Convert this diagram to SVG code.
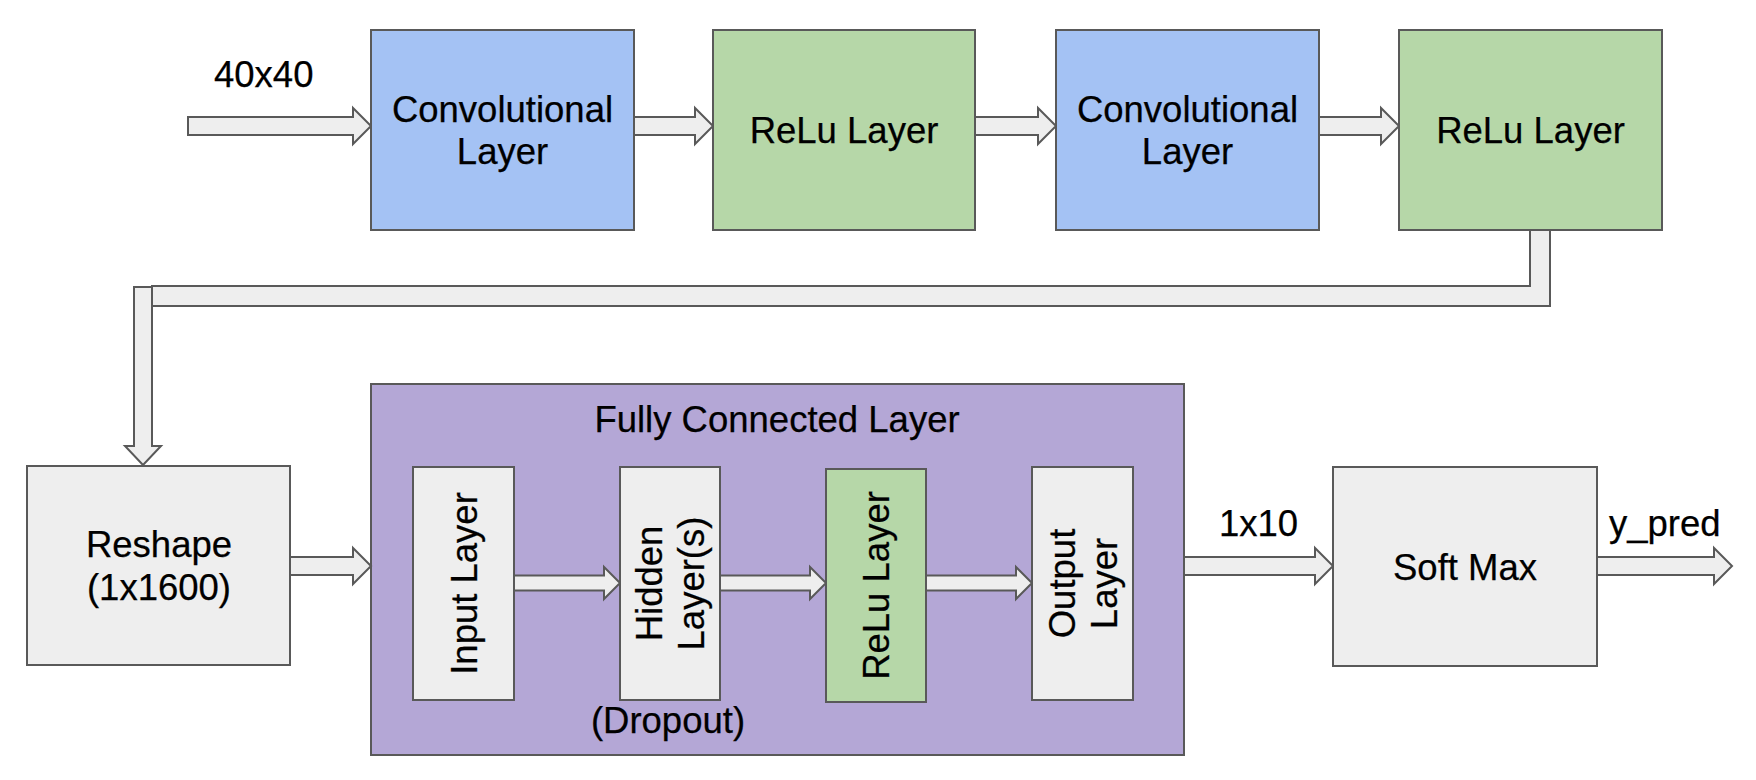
<svg xmlns="http://www.w3.org/2000/svg" width="1756" height="780" viewBox="0 0 1756 780">
  <style>
    .box { stroke: #595959; stroke-width: 2; }
    .conv { fill: #a4c2f4; }
    .relu { fill: #b6d7a8; }
    .grey { fill: #eeeeee; }
    .fc { fill: #b4a7d6; }
    .arrow { fill: #eeeeee; stroke: #595959; stroke-width: 2; stroke-linejoin: miter; }
    text { font-family: "Liberation Sans", Arial, sans-serif; font-size: 36.5px; fill: #000000; stroke: #000000; stroke-width: 0.25; }
    .c { text-anchor: middle; }
  </style>
  <rect width="1756" height="780" fill="#ffffff"/>

  <!-- fully connected container (drawn first so inner parts sit on top) -->
  <g id="fully-connected">
    <rect class="box fc" x="371" y="384" width="813" height="371"/>
    <text class="c" x="777" y="432">Fully Connected Layer</text>
  </g>

  <!-- connectors -->
  <g id="connectors">
    <polygon class="arrow" points="188,117 353,117 353,108 371,126 353,144 353,135 188,135"/>
    <polygon class="arrow" points="634,117 695,117 695,108 713,126 695,144 695,135 634,135"/>
    <polygon class="arrow" points="975,117 1038,117 1038,108 1056,126 1038,144 1038,135 975,135"/>
    <polygon class="arrow" points="1319,117 1381,117 1381,108 1399,126 1381,144 1381,135 1319,135"/>
    <!-- route from the second ReLu down to Reshape -->
    <polygon class="arrow" points="134,287 152,287 152,446 161,446 143,465 125,446 134,446"/>
    <polygon class="arrow" points="1530,230 1550,230 1550,306 152,306 152,286 1530,286"/>
    <polygon class="arrow" points="290,557 353,557 353,548 371,566 353,584 353,575 290,575"/>
    <polygon class="arrow" points="1184,557 1315,557 1315,548 1333,566 1315,584 1315,575 1184,575"/>
    <polygon class="arrow" points="1597,557 1714,557 1714,548 1732,566 1714,584 1714,575 1597,575"/>
    <!-- inside the fully connected block -->
    <polygon class="arrow" points="514,575.5 604,575.5 604,567 620,583 604,599 604,590.5 514,590.5"/>
    <polygon class="arrow" points="719,575.5 810,575.5 810,567 826,583 810,599 810,590.5 719,590.5"/>
    <polygon class="arrow" points="926,575.5 1016,575.5 1016,567 1032,583 1016,599 1016,590.5 926,590.5"/>
  </g>

  <!-- labels on connectors -->
  <g id="edge-labels">
    <text x="214" y="87">40x40</text>
    <text x="1219" y="536">1x10</text>
    <text x="1609" y="536">y_pred</text>
  </g>

  <g id="conv1">
    <rect class="box conv" x="371" y="30" width="263" height="200"/>
    <text class="c" x="502.5" y="122">Convolutional</text>
    <text class="c" x="502.5" y="164">Layer</text>
  </g>
  <g id="relu1">
    <rect class="box relu" x="713" y="30" width="262" height="200"/>
    <text class="c" x="844" y="143">ReLu Layer</text>
  </g>
  <g id="conv2">
    <rect class="box conv" x="1056" y="30" width="263" height="200"/>
    <text class="c" x="1187.5" y="122">Convolutional</text>
    <text class="c" x="1187.5" y="164">Layer</text>
  </g>
  <g id="relu2">
    <rect class="box relu" x="1399" y="30" width="263" height="200"/>
    <text class="c" x="1530.5" y="143">ReLu Layer</text>
  </g>

  <g id="reshape">
    <rect class="box grey" x="27" y="466" width="263" height="199"/>
    <text class="c" x="159" y="557">Reshape</text>
    <text class="c" x="159" y="600">(1x1600)</text>
  </g>

  <g id="input-layer">
    <rect class="box grey" x="413" y="467" width="101" height="233"/>
    <text class="c" transform="translate(463.5,583.5) rotate(-90)" x="0" y="13">Input Layer</text>
  </g>
  <g id="hidden-layer">
    <rect class="box grey" x="620" y="467" width="100" height="233"/>
    <text class="c" transform="translate(670,583.5) rotate(-90)" x="0" y="-8">Hidden</text>
    <text class="c" transform="translate(670,583.5) rotate(-90)" x="0" y="34">Layer(s)</text>
    <text class="c" x="668" y="733">(Dropout)</text>
  </g>
  <g id="relu-layer">
    <rect class="box relu" x="826" y="469" width="100" height="233"/>
    <text class="c" transform="translate(876,585.5) rotate(-90)" x="0" y="13">ReLu Layer</text>
  </g>
  <g id="output-layer">
    <rect class="box grey" x="1032" y="467" width="101" height="233"/>
    <text class="c" transform="translate(1082.5,583.5) rotate(-90)" x="0" y="-8">Output</text>
    <text class="c" transform="translate(1082.5,583.5) rotate(-90)" x="0" y="34">Layer</text>
  </g>

  <g id="softmax">
    <rect class="box grey" x="1333" y="467" width="264" height="199"/>
    <text class="c" x="1465" y="580">Soft Max</text>
  </g>
</svg>
